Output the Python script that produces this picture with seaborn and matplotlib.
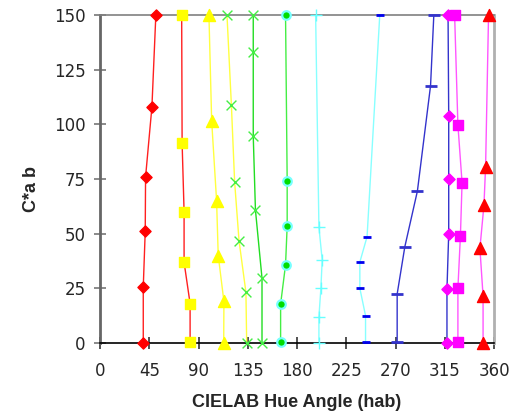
import numpy as np
import pandas as pd
import matplotlib
matplotlib.use('Agg')
import matplotlib.pyplot as plt
import seaborn as sns

red_diamond_h = [39.5, 39.5, 41.3, 41.6, 47.4, 51.0]
red_diamond_c = [0, 25.6, 51.2, 75.9, 107.9, 150]
yel_square_h = [82.3, 82.3, 76.8, 76.8, 75.0, 74.6]
yel_square_c = [0.6, 18, 36.9, 60, 91.4, 150]
yel_tri_h = [113.0, 113.2, 108.0, 106.5, 102.0, 99.5]
yel_tri_c = [0, 19, 40, 65, 101.6, 150]
grn_x1_h = [134.0, 133.3, 127.0, 123.0, 120.0, 116.0]
grn_x1_c = [0, 23.2, 46.8, 73.5, 109, 150]
grn_x2_h = [148.0, 148.0, 142.0, 140.0, 140.0, 140.0]
grn_x2_c = [0, 29.6, 60.8, 94.6, 133, 150]
grn_circ_h = [165.0, 165.0, 169.5, 171.0, 171.0, 169.5]
grn_circ_c = [0.6, 17.8, 35.7, 53.5, 74, 150]
cyan_plus_h = [200.0, 200.0, 201.8, 203.0, 200.0, 197.0]
cyan_plus_c = [0, 12, 25, 38, 53, 150]
blue_dash1_h = [242.6, 242.6, 237.4, 237.4, 244.0, 255.6]
blue_dash1_c = [0.6, 12.5, 25, 37, 48.6, 150]
blue_dash2_h = [271.5, 271.5, 278.5, 290.0, 302.0, 305.0]
blue_dash2_c = [0.6, 22.4, 44, 69.5, 117.6, 150]
mag_diamond_h = [317.0, 317.0, 318.6, 318.6, 318.6, 318.0]
mag_diamond_c = [0, 24.5, 50, 75, 104, 150]
mag_square_h = [327.0, 327.0, 329.3, 330.8, 327.0, 324.0]
mag_square_c = [0.6, 25, 49, 73.3, 99.7, 150]
red_tri_h = [350.0, 350.0, 347.1, 350.8, 352.3, 355.0]
red_tri_c = [0, 21.5, 43.3, 63, 80.6, 150]

x_ticks = [0, 45, 90, 135, 180, 225, 270, 315, 360]
y_ticks = [0, 25, 50, 75, 100, 125, 150]

series = [
    # hues, chroma, line colour, marker, face, edge, size
    (red_diamond_h, red_diamond_c, '#ff2020', 'D', '#ff0000', '#ff0000', 32),
    (yel_square_h, yel_square_c, '#ff2020', 's', '#ffff00', '#ffff00', 48),
    (yel_tri_h, yel_tri_c, '#ffff40', '^', '#ffff00', '#ffff00', 75),
    (grn_x1_h, grn_x1_c, '#ffff40', 'x', '#44ee44', '#44ee44', 50),
    (grn_x2_h, grn_x2_c, '#22dd22', 'x', '#44ee44', '#44ee44', 50),
    (grn_circ_h, grn_circ_c, '#44ee44', 'o', '#00dd00', '#77ffff', 38),
    (cyan_plus_h, cyan_plus_c, '#88ffff', '+', '#66ffff', '#66ffff', 80),
    (blue_dash1_h, blue_dash1_c, '#88ffff', '_', '#0000ee', '#0000ee', 40),
    (blue_dash2_h, blue_dash2_c, '#3333cc', '_', '#3333cc', '#3333cc', 80),
    (mag_diamond_h, mag_diamond_c, '#3333cc', 'D', '#ff00ff', '#ff00ff', 32),
    (mag_square_h, mag_square_c, '#ff55ff', 's', '#ff00ff', '#ff00ff', 48),
    (red_tri_h, red_tri_c, '#ff55ff', '^', '#ff0000', '#ff0000', 75),
]

sns.set_style('white')
plt.rcParams['font.family'] = ['DejaVu Sans']

fig = plt.figure(figsize=(5.13, 4.15), dpi=100)
ax = fig.add_axes([0.195, 0.1735, 0.768, 0.7905])

for h, c, lc, m, fc, ec, s in series:
    df = pd.DataFrame({'hue': h, 'chroma': c})
    sns.lineplot(data=df, x='hue', y='chroma', sort=False, estimator=None,
                 color=lc, linewidth=1.0, ax=ax, zorder=2)
    if m in ('x', '+', '_'):
        sns.scatterplot(data=df, x='hue', y='chroma', marker=m, s=s,
                        color=fc, linewidth=2 if m == '_' else 1.0,
                        ax=ax, zorder=3, clip_on=False)
    else:
        sns.scatterplot(data=df, x='hue', y='chroma', marker=m, s=s,
                        color=fc, edgecolor=ec, linewidth=1.6 if m == 'o' else 1.0,
                        ax=ax, zorder=3, clip_on=False)

ax.set_xlim(0, 360)
ax.set_ylim(0, 150)
ax.set_xticks(x_ticks)
ax.set_yticks(y_ticks)
ax.tick_params(axis='x', direction='inout', length=9, width=1.2, color='#333333',
               labelsize=12, pad=9)
ax.tick_params(axis='y', direction='inout', length=9, width=1.2, color='#777777',
               labelsize=12, pad=6)
ax.tick_params(bottom=True, left=True, top=False, right=False)

ax.spines['left'].set_color('#666666')
ax.spines['left'].set_linewidth(2)
ax.spines['bottom'].set_color('#000000')
ax.spines['bottom'].set_linewidth(1.2)
ax.spines['top'].set_color('#808080')
ax.spines['top'].set_linewidth(1.2)
ax.spines['right'].set_color('#b0b0b0')
ax.spines['right'].set_linewidth(2)

ax.set_xlabel('CIELAB Hue Angle (hab)', fontsize=13, fontweight='bold',
              family='Liberation Sans', labelpad=10)
ax.set_ylabel('C*a b', fontsize=13, fontweight='bold',
              family='Liberation Sans')
ax.yaxis.set_label_coords(-0.152, 0.47)

fig.savefig('out.png', dpi=100)
